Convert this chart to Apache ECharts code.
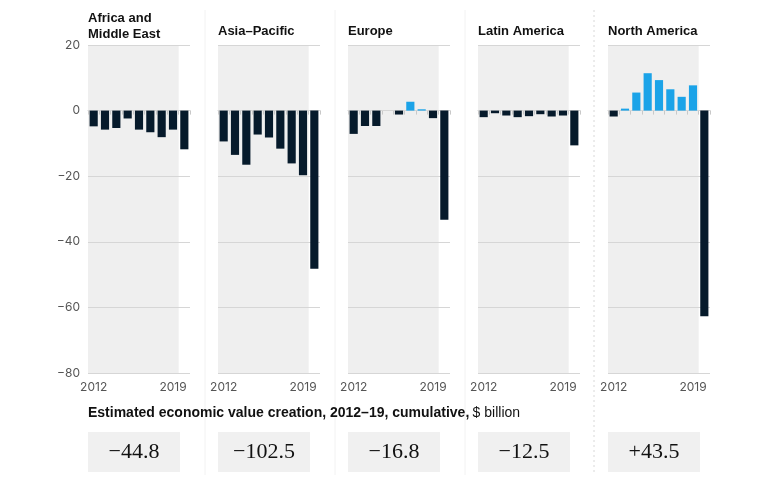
<!DOCTYPE html>
<html><head><meta charset="utf-8">
<script src="https://cdn.jsdelivr.net/npm/echarts@6/dist/echarts.min.js"></script>
<style>html,body{margin:0;padding:0;background:#fff}#c{width:767px;height:480px}</style>
</head><body><div id="c"></div>
<script>
const years = ['2012','2013','2014','2015','2016','2017','2018','2019','2020'];
const regions = ['Africa and\nMiddle East','Asia\u2013Pacific','Europe','Latin America','North America'];
const africa = [-4.8,-5.8,-5.3,-2.4,-5.8,-6.6,-8.1,-5.8,-11.8];
const asia = [-9.4,-13.5,-16.5,-7.3,-8.2,-11.6,-16.1,-19.7,-48.2];
const europe = [-7.1,-4.7,-4.7,0,-1.2,2.7,0.4,-2.3,-33.3];
const latam = [-2.0,-0.8,-1.5,-2.0,-1.7,-1.1,-1.8,-1.5,-10.6];
const namerica = [-1.8,0.6,5.5,11.4,9.3,6.5,4.2,7.7,-62.7];
const totals = ['\u221244.8','\u2212102.5','\u221216.8','\u221212.5','+43.5'];
const yTicks = [20,0,-20,-40,-60,-80];
const values = [africa,asia,europe,latam,namerica];

const lefts = [88,218,348,478,608], W = 102;
const grid=[],xAxis=[],yAxis=[],series=[],graphic=[];
values.forEach((vals,i)=>{
  grid.push({left:lefts[i],top:45,width:W,height:328});
  xAxis.push({type:'category',gridIndex:i,data:years,
    axisLine:{lineStyle:{color:'#d0d0d0'}},
    axisTick:{show:true,length:4,lineStyle:{color:'#c8c8c8'}},
    axisLabel:{interval:0,color:'#555',fontSize:12,fontFamily:'Inter',margin:8,
      formatter:(v,idx)=>(idx===0||idx===7)?v:''}});
  yAxis.push({type:'value',gridIndex:i,min:-80,max:20,interval:20,
    axisLabel:{show:i===0,color:'#555',fontSize:12,fontFamily:'Inter',margin:8,
      formatter:v=>v<0?'\u2212'+(-v):String(v)},
    axisLine:{show:false},axisTick:{show:false},
    splitLine:{lineStyle:{color:'#d6d6d6'}}});
  series.push({type:'bar',xAxisIndex:i,yAxisIndex:i,barWidth:'72%',z:3,
    data:vals.map(v=>({value:v,itemStyle:{color:v>0?'#1ba3e8':'#061a2b'}})),
    markLine:{silent:true,symbol:'none',label:{show:false},z:2,
      lineStyle:{color:'#d6d6d6',type:'solid',width:1},
      data:yTicks.filter(t=>t!==-80).map(t=>({yAxis:t}))}});
  graphic.push({type:'text',left:lefts[i],top:i===0?10:23,
    style:{text:regions[i],font:'bold 13px "Liberation Sans", Arial',fill:'#111',lineHeight:16}});
  graphic.push({type:'rect',shape:{x:lefts[i],y:432,width:92,height:40},style:{fill:'#f0f0f0'}});
  graphic.push({type:'text',x:lefts[i]+46,y:452,
    style:{text:totals[i],font:'22px "Liberation Serif", serif',fill:'#111',align:'center',verticalAlign:'middle'}});
});
[205,335,465].forEach(x=>graphic.push({type:'line',shape:{x1:x,y1:10,x2:x,y2:475},style:{stroke:'#f2f2f2',lineWidth:1}}));
graphic.push({type:'line',shape:{x1:594,y1:10,x2:594,y2:475},style:{stroke:'#d8d8d8',lineWidth:1,lineDash:[2,3]}});
graphic.push({type:'text',left:88,top:406,style:{
  rich:{b:{font:'bold 14px "Liberation Sans", Arial',fill:'#111'},n:{font:'14px "Liberation Sans", Arial',fill:'#111'}},
  text:'{b|Estimated economic value creation, 2012\u201319, cumulative,} {n|$ billion}'}});
const chart = echarts.init(document.getElementById('c'));
chart.setOption({animation:false,grid,xAxis,yAxis,series,graphic});
// shaded 2012–2019 background, positioned through the axes' own scales
const bg = values.map((v,i)=>{
  const c0 = chart.convertToPixel({gridIndex:i},[years[0],20]);
  const c1 = chart.convertToPixel({gridIndex:i},[years[1],-80]);
  const c7 = chart.convertToPixel({gridIndex:i},[years[7],-80]);
  const half = (c1[0]-c0[0])/2;
  return {type:'rect',z:-1,silent:true,shape:{x:c0[0]-half,y:c0[1],width:c7[0]-c0[0]+2*half,height:c7[1]-c0[1]},
    style:{fill:'#efefef'}};
});
chart.setOption({graphic:graphic.concat(bg)});
</script></body></html>
